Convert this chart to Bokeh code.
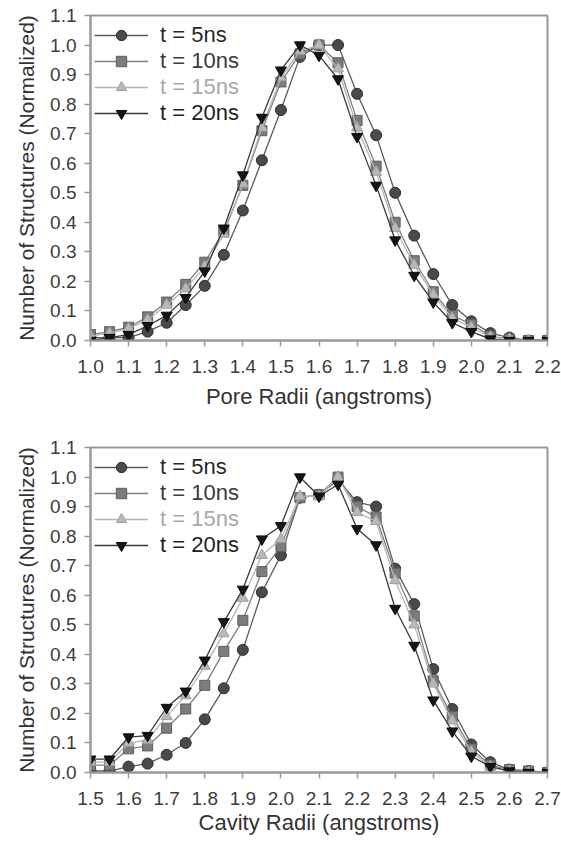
from bokeh.plotting import figure
from bokeh.layouts import column
from bokeh.models import Legend, LegendItem, FixedTicker, PrintfTickFormatter, Range1d
from bokeh.embed import file_html
from bokeh.resources import INLINE

# ---------------- data ----------------
labels = ["t = 5ns", "t = 10ns", "t = 15ns", "t = 20ns"]

pore_x = [1.00, 1.05, 1.10, 1.15, 1.20, 1.25, 1.30, 1.35, 1.40, 1.45, 1.50, 1.55, 1.60,
          1.65, 1.70, 1.75, 1.80, 1.85, 1.90, 1.95, 2.00, 2.05, 2.10, 2.15, 2.20]
pore_t5 = [0.01, 0.01, 0.01, 0.03, 0.06, 0.12, 0.185, 0.29, 0.44, 0.61, 0.78, 0.96, 1.00,
           1.00, 0.835, 0.695, 0.50, 0.355, 0.225, 0.12, 0.065, 0.025, 0.01, 0.0, 0.0]
pore_t10 = [0.02, 0.03, 0.045, 0.08, 0.13, 0.19, 0.265, 0.37, 0.525, 0.71, 0.875, 0.97, 1.00,
            0.94, 0.745, 0.59, 0.40, 0.27, 0.165, 0.085, 0.055, 0.015, 0.005, 0.0, 0.0]
pore_t15 = [0.015, 0.025, 0.04, 0.07, 0.12, 0.175, 0.25, 0.36, 0.53, 0.72, 0.89, 0.98, 1.00,
            0.92, 0.72, 0.57, 0.38, 0.255, 0.155, 0.075, 0.045, 0.012, 0.005, 0.0, 0.0]
pore_t20 = [0.0, 0.01, 0.02, 0.05, 0.085, 0.145, 0.235, 0.38, 0.56, 0.755, 0.915, 1.00, 0.965,
            0.885, 0.69, 0.525, 0.34, 0.22, 0.13, 0.06, 0.03, 0.005, 0.0, 0.0, 0.0]

cav_x = [1.50, 1.55, 1.60, 1.65, 1.70, 1.75, 1.80, 1.85, 1.90, 1.95, 2.00, 2.05, 2.10,
         2.15, 2.20, 2.25, 2.30, 2.35, 2.40, 2.45, 2.50, 2.55, 2.60, 2.65, 2.70]
cav_t5 = [0.005, 0.005, 0.02, 0.03, 0.06, 0.10, 0.18, 0.285, 0.415, 0.61, 0.735, 0.93, 0.94,
          0.99, 0.915, 0.90, 0.69, 0.57, 0.35, 0.215, 0.095, 0.035, 0.01, 0.005, 0.0]
cav_t10 = [0.025, 0.025, 0.08, 0.09, 0.15, 0.215, 0.295, 0.41, 0.515, 0.68, 0.765, 0.93, 0.94,
           1.00, 0.90, 0.865, 0.675, 0.53, 0.31, 0.19, 0.08, 0.025, 0.01, 0.005, 0.0]
cav_t15 = [0.035, 0.035, 0.10, 0.11, 0.19, 0.26, 0.36, 0.47, 0.59, 0.735, 0.79, 0.935, 0.935,
           1.00, 0.88, 0.85, 0.65, 0.50, 0.30, 0.175, 0.07, 0.02, 0.005, 0.0, 0.0]
cav_t20 = [0.045, 0.045, 0.12, 0.125, 0.22, 0.275, 0.38, 0.51, 0.62, 0.79, 0.835, 1.00, 0.935,
           0.975, 0.825, 0.77, 0.555, 0.43, 0.245, 0.14, 0.055, 0.02, 0.005, 0.0, 0.0]

pore_ticks = [1.0, 1.1, 1.2, 1.3, 1.4, 1.5, 1.6, 1.7, 1.8, 1.9, 2.0, 2.1, 2.2]
cav_ticks = [1.5, 1.6, 1.7, 1.8, 1.9, 2.0, 2.1, 2.2, 2.3, 2.4, 2.5, 2.6, 2.7]
y_ticks = [0.0, 0.1, 0.2, 0.3, 0.4, 0.5, 0.6, 0.7, 0.8, 0.9, 1.0, 1.1]

# ---------------- styles ----------------
FONT = "Liberation Sans"
markers = ["circle", "square", "triangle", "inverted_triangle"]
sizes = [11, 10, 11, 11]
fills = ["#4a4a4a", "#7c7c7c", "#b8b8b8", "#151515"]
edges = ["#2e2e2e", "#5e5e5e", "#a0a0a0", "#0a0a0a"]
lines = ["#5a5a5a", "#808080", "#b5b5b5", "#3a3a3a"]
text_colors = ["#2a2a2a", "#3a3a3a", "#a8a8a8", "#1e1e1e"]
row_centers = [20, 46, 72, 98]


def make_panel(xs, ys_list, xrange, ticks, xlabel, height, top, bottom, label_standoff, title_standoff):
    p = figure(width=561, height=height, output_backend="svg", toolbar_location=None,
               x_range=Range1d(*xrange), y_range=Range1d(0, 1.1),
               min_border_left=90, min_border_right=14,
               min_border_top=top, min_border_bottom=bottom)
    p.background_fill_color = "white"
    p.border_fill_color = "white"
    p.xgrid.grid_line_color = None
    p.ygrid.grid_line_color = None
    p.outline_line_color = "#9a9a9a"
    p.outline_line_width = 2

    for ax in (p.xaxis[0], p.yaxis[0]):
        ax.axis_line_color = "#9a9a9a"
        ax.axis_line_width = 2
        ax.major_tick_line_color = "#9a9a9a"
        ax.major_tick_line_width = 1.5
        ax.major_tick_in = 0
        ax.major_tick_out = 6
        ax.minor_tick_line_color = None
        ax.major_label_text_font = FONT
        ax.major_label_text_font_size = "19px"
        ax.major_label_text_color = "#3c3c3c"
        ax.axis_label_text_font = FONT
        ax.axis_label_text_font_style = "normal"
        ax.axis_label_text_color = "#333333"
        ax.formatter = PrintfTickFormatter(format="%.1f")

    p.xaxis[0].axis_label_text_font_size = "22px"
    p.yaxis[0].axis_label_text_font_size = "21px"
    p.xaxis[0].ticker = FixedTicker(ticks=ticks)
    p.yaxis[0].ticker = FixedTicker(ticks=y_ticks)
    p.xaxis[0].axis_label = xlabel
    p.yaxis[0].axis_label = "Number of Structures (Normalized)"
    p.xaxis[0].major_label_standoff = label_standoff
    p.xaxis[0].axis_label_standoff = title_standoff
    p.yaxis[0].major_label_standoff = 8
    p.yaxis[0].axis_label_standoff = 9

    frame_h = height - top - bottom
    for i, ys in enumerate(ys_list):
        lr = p.line(xs, ys, line_color=lines[i], line_width=1.3)
        sr = p.scatter(xs, ys, marker=markers[i], size=sizes[i], fill_color=fills[i],
                       line_color=edges[i], line_width=1)
        leg = Legend(items=[LegendItem(label=labels[i], renderers=[lr, sr])],
                     location=(4, frame_h - row_centers[i] - 13))
        leg.border_line_color = None
        leg.background_fill_alpha = 0
        leg.padding = 0
        leg.margin = 0
        leg.spacing = 0
        leg.glyph_width = 54
        leg.glyph_height = 26
        leg.label_height = 26
        leg.label_standoff = 12
        leg.label_text_font = FONT
        leg.label_text_font_size = "22px"
        leg.label_text_color = text_colors[i]
        leg.label_text_baseline = "middle"
        p.add_layout(leg)
    return p


top_panel = make_panel(pore_x, [pore_t5, pore_t10, pore_t15, pore_t20], (1.0, 2.2), pore_ticks,
                       "Pore Radii (angstroms)", 418, 15, 78, 13, 8)
bot_panel = make_panel(cav_x, [cav_t5, cav_t10, cav_t15, cav_t20], (1.5, 2.7), cav_ticks,
                       "Cavity Radii (angstroms)", 423, 29, 69, 13, 2)

layout = column(top_panel, bot_panel, spacing=0)
open("out.html", "w").write(file_html(layout, INLINE))
